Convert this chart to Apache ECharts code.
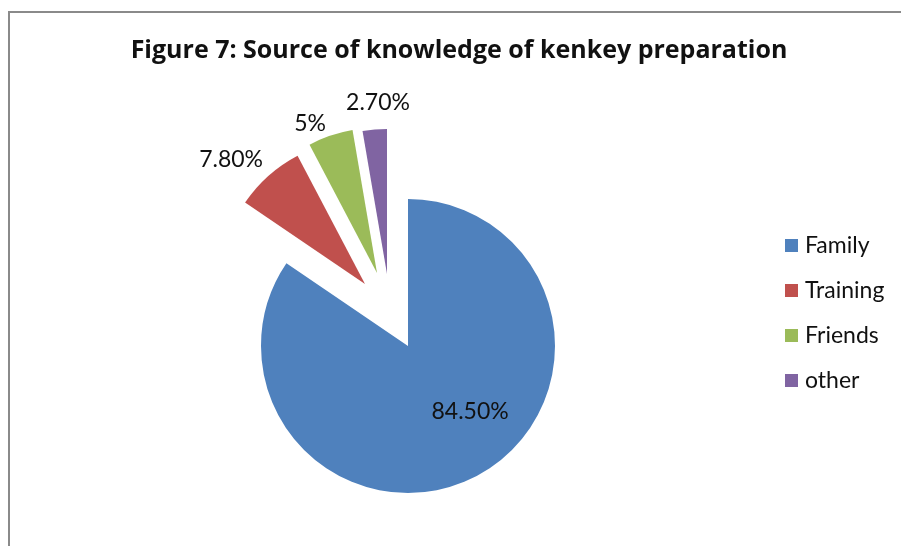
<!DOCTYPE html>
<html>
<head>
<meta charset="utf-8">
<script src="https://cdn.jsdelivr.net/npm/echarts@6/dist/echarts.min.js"></script>
<style>
  html, body { margin: 0; padding: 0; background: #ffffff; overflow: hidden; }
  #wrap { position: relative; width: 901px; height: 546px; overflow: hidden; }
  #chart { width: 901px; height: 546px; }
  /* chart-area frame: only its top and left edges fall inside the page */
  #frame {
    position: absolute; left: 8px; top: 11px; width: 1000px; height: 1000px;
    border-left: 2px solid #8a8a8a; border-top: 2px solid #8a8a8a;
    pointer-events: none;
  }
</style>
</head>
<body>
<div id="wrap">
  <div id="chart"></div>
  <div id="frame"></div>
</div>
<script>
// Source of knowledge of kenkey preparation (percent of respondents)
const categories = ['Family', 'Training', 'Friends', 'other'];
const shares = [84.5, 7.8, 5, 2.7];
const colors = ['#4F81BD', '#C0504D', '#9BBB59', '#8064A2'];

// Layout: pie centre, radius and how far each slice is pulled out
const CX = 408, CY = 346;
const radii = [147, 145, 145, 145];
const sliceShift = [[0, 0], [-43, -62], [-31, -73], [-21, -72]];
const labelDist = [90, 165, 165, 165];
const labelShift = [[20, -14], [-24, -1], [-14, 7], [5, -7]];
const FONT = 'Lato, "Open Sans", sans-serif';
const TITLE_FONT = '"Open Sans", Lato, sans-serif';

const total = shares.reduce((a, b) => a + b, 0);
// mid angle (degrees clockwise from 12 o'clock) of every slice
const midAngles = [];
let acc = 0;
shares.forEach(v => {
  const span = v / total * 360;
  midAngles.push(acc + span / 2);
  acc += span;
});

function fmt(v) {
  return Number.isInteger(v) ? v + '%' : v.toFixed(2) + '%';
}

function sliceCenter(i) {
  return [CX + sliceShift[i][0], CY + sliceShift[i][1]];
}

// one pie per slice so every slice can have its own explosion offset
const series = categories.map((_, i) => {
  const c = sliceCenter(i);
  return {
    type: 'pie',
    name: categories[i],
    center: c,
    radius: [0, radii[i]],
    startAngle: 90,
    clockwise: true,
    silent: true,
    animation: false,
    avoidLabelOverlap: false,
    labelLine: { show: false },
    itemStyle: { borderWidth: 0 },
    emphasis: { disabled: true },
    label: {
      show: true,
      position: 'inside',
      fontFamily: FONT,
      fontSize: 23,
      color: '#111111',
      formatter: p => fmt(p.value)
    },
    labelLayout: () => {
      const a = midAngles[i] * Math.PI / 180;
      return {
        x: c[0] + labelDist[i] * Math.sin(a) + labelShift[i][0],
        y: c[1] - labelDist[i] * Math.cos(a) + labelShift[i][1],
        align: 'center',
        verticalAlign: 'middle'
      };
    },
    data: categories.map((name, j) => ({
      name: name,
      value: shares[j],
      itemStyle: { color: j === i ? colors[j] : 'rgba(0,0,0,0)' },
      label: { show: j === i }
    }))
  };
});

const chart = echarts.init(document.getElementById('chart'), null, { renderer: 'canvas' });
chart.setOption({
  backgroundColor: '#ffffff',
  animation: false,
  title: {
    text: 'Figure 7: Source of knowledge of kenkey preparation',
    left: 454,
    textAlign: 'center',
    top: 33,
    textStyle: { fontFamily: TITLE_FONT, fontWeight: 'bold', fontSize: 25, color: '#111111' }
  },
  legend: {
    orient: 'vertical',
    left: 780,
    top: 229,
    padding: 5,
    icon: 'rect',
    itemWidth: 13,
    itemHeight: 13,
    itemGap: 22,
    selectedMode: false,
    textStyle: { fontFamily: FONT, fontSize: 23, lineHeight: 22, color: '#111111', padding: [0, 0, 0, 2] },
    data: categories.map((name, j) => ({ name: name, itemStyle: { color: colors[j] } }))
  },
  series: series
});
</script>
</body>
</html>
